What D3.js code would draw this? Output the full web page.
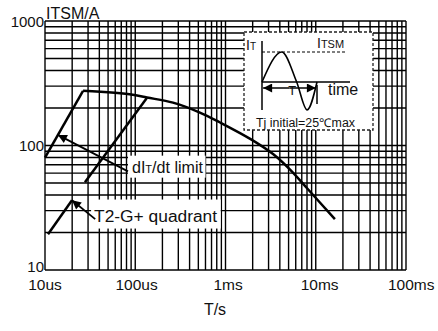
<!DOCTYPE html>
<html>
<head>
<meta charset="utf-8">
<script src="https://cdn.jsdelivr.net/npm/d3@7/dist/d3.min.js"></script>
<style>
  html, body { margin: 0; padding: 0; background: #fff; }
  svg { display: block; font-family: "Liberation Sans", Arial, sans-serif; }
</style>
</head>
<body>
<svg id="chart" width="438" height="331"></svg>
<script>
// Surge current ITSM versus pulse width T
const xTickValues = [1e-5, 1e-4, 1e-3, 1e-2, 1e-1];
const xTickLabels = ["10us", "100us", "1ms", "10ms", "100ms"];
const yTickValues = [10, 100, 1000];
const yTickLabels = ["10", "100", "1000"];

// steep rise limited by dIT/dt, then the surge-rating curve
const riseTime = [1e-5, 2.64e-5];
const riseCurrent = [80, 275];
const ratingTime = [2.64e-5, 9.4e-5, 1.35e-4, 2.62e-4, 5.2e-4, 8.7e-4, 1.92e-3, 3.39e-3, 5.19e-3, 8.2e-3, 1.63e-2];
const ratingCurrent = [275, 256, 243, 221, 184, 153, 112, 85, 64, 44.5, 25.6];
// second dIT/dt limit line
const limitTime = [2.77e-5, 1.35e-4];
const limitCurrent = [50.6, 242];
// T2-G+ quadrant limit
const quadTime = [1.08e-5, 1.99e-5];
const quadCurrent = [19.4, 36.3];

// inset waveform: one period T, current in units of ITSM
const wavePhase = [0, 0.36, 0.63, 0.82, 1];
const waveLevel = [0, 1, 0, -0.93, 0];

const svg = d3.select("#chart");
const x = d3.scaleLog().domain([1e-5, 1e-1]).range([45, 406]);
const y = d3.scaleLog().domain([10, 1000]).range([270, 21]);

// grid
const grid = svg.append("g").attr("stroke", "#000").attr("stroke-width", 1.4);
grid.selectAll("line.v").data(x.ticks()).join("line")
  .attr("x1", d => x(d)).attr("x2", d => x(d))
  .attr("y1", y(1000)).attr("y2", y(10));
grid.selectAll("line.h").data(y.ticks()).join("line")
  .attr("y1", d => y(d)).attr("y2", d => y(d))
  .attr("x1", x(1e-5)).attr("x2", x(1e-1));

// axis labels
svg.append("g").selectAll("text").data(xTickValues).join("text")
  .attr("x", (d, i) => x(d) + i * 1.3)
  .attr("y", 289.5)
  .attr("text-anchor", "middle")
  .attr("font-size", 15.5)
  .attr("fill", "#111")
  .text((d, i) => xTickLabels[i]);
svg.append("g").selectAll("text").data(yTickValues).join("text")
  .attr("x", 44)
  .attr("y", d => Math.min(y(d) + 5.8, 271.5))
  .attr("text-anchor", "end")
  .attr("font-size", 15)
  .attr("fill", "#111")
  .text((d, i) => yTickLabels[i]);
svg.append("text").attr("x", 215).attr("y", 315).attr("text-anchor", "middle")
  .attr("font-size", 16).attr("fill", "#111").text("T/s");
svg.append("text").attr("x", 46).attr("y", 18.5)
  .attr("font-size", 16).attr("fill", "#111").text("ITSM/A");

// arrow marker
svg.append("defs").append("marker")
  .attr("id", "head").attr("viewBox", "0 0 10 10")
  .attr("refX", 10).attr("refY", 5)
  .attr("markerWidth", 13).attr("markerHeight", 9)
  .attr("markerUnits", "userSpaceOnUse")
  .attr("orient", "auto")
  .append("path").attr("d", "M0,0L10,5L0,10z").attr("fill", "#000");

// annotations with white backing
function label(t, i, parts, pad, width) {
  const g = svg.append("g");
  const rect = g.append("rect").attr("fill", "#fff");
  const txt = g.append("text").attr("x", x(t)).attr("y", y(i))
    .attr("font-size", 16).attr("fill", "#111");
  parts.forEach(p => txt.append("tspan").attr("font-size", p[1]).text(p[0]));
  if (width) txt.attr("textLength", width).attr("lengthAdjust", "spacingAndGlyphs");
  const b = txt.node().getBBox();
  rect.attr("x", b.x - pad[3]).attr("y", b.y - pad[0])
    .attr("width", b.width + pad[1] + pad[3])
    .attr("height", b.height + pad[0] + pad[2]);
  return g;
}
label(9.2e-5, 60.5, [["dI", 16], ["T", 11], ["/dt limit", 16]], [3, 2, 2, 4], 71);
label(3.5e-5, 24.5, [["T2-G+ quadrant", 16]], [8, 3, 4, 3], 123);

// curves
const line = d3.line().x(d => x(d[0])).y(d => y(d[1]));
const curve = d3.line().x(d => x(d[0])).y(d => y(d[1])).curve(d3.curveCatmullRom.alpha(0.5));
const zip = (a, b) => a.map((v, k) => [v, b[k]]);
const curves = svg.append("g").attr("fill", "none").attr("stroke", "#000")
  .attr("stroke-width", 2.5).attr("stroke-linejoin", "round");
curves.append("path").attr("d", line(zip(riseTime, riseCurrent)));
curves.append("path").attr("d", curve(zip(ratingTime, ratingCurrent)));
curves.append("path").attr("d", line(zip(limitTime, limitCurrent)));
curves.append("path").attr("d", line(zip(quadTime, quadCurrent)));

// pointer arrows from the notes to the limit lines
const riseAt = t => riseCurrent[0] * Math.pow(riseCurrent[1] / riseCurrent[0],
  Math.log(t / riseTime[0]) / Math.log(riseTime[1] / riseTime[0]));
const arrows = [
  [[8.3e-5, 62], [1.39e-5, riseAt(1.39e-5)]],
  [[3.6e-5, 25.6], [quadTime[1], quadCurrent[1]]]
];
svg.append("g").selectAll("path").data(arrows).join("path")
  .attr("d", d => line(d))
  .attr("stroke", "#000").attr("stroke-width", 1.8).attr("fill", "none")
  .attr("marker-end", "url(#head)");

// inset: test waveform
const inset = svg.append("g");
inset.append("rect").attr("x", 244).attr("y", 32).attr("width", 129).attr("height", 98)
  .attr("fill", "#fff").attr("stroke", "#222").attr("stroke-width", 1.3)
  .attr("stroke-dasharray", "3,2");
const wx = d3.scaleLinear().domain([0, 1]).range([262, 317]);
const wy = d3.scaleLinear().domain([-1, 1]).range([112, 52]);
inset.append("line").attr("x1", wx(0)).attr("x2", wx(0)).attr("y1", 41).attr("y2", 110)
  .attr("stroke", "#000").attr("stroke-width", 1.5);
inset.append("line").attr("x1", wx(0)).attr("x2", 350).attr("y1", wy(0)).attr("y2", wy(0))
  .attr("stroke", "#000").attr("stroke-width", 1.5);
inset.append("line").attr("x1", wx(0)).attr("x2", 347).attr("y1", wy(1)).attr("y2", wy(1))
  .attr("stroke", "#000").attr("stroke-width", 1.2).attr("stroke-dasharray", "3,2");
inset.append("line").attr("x1", wx(1)).attr("x2", wx(1)).attr("y1", 85).attr("y2", 104)
  .attr("stroke", "#000").attr("stroke-width", 1.5);
inset.append("path")
  .attr("d", d3.line().x(d => wx(d[0])).y(d => wy(d[1])).curve(d3.curveMonotoneX)(zip(wavePhase, waveLevel)))
  .attr("fill", "none").attr("stroke", "#000").attr("stroke-width", 1.6);
inset.append("path")
  .attr("d", `M${wx(0.5)},88L${wx(0.02)},88`)
  .attr("stroke", "#000").attr("stroke-width", 1.5).attr("marker-end", "url(#head)");
inset.append("path")
  .attr("d", `M${wx(0.5)},88L${wx(0.98)},88`)
  .attr("stroke", "#000").attr("stroke-width", 1.5).attr("marker-end", "url(#head)");
inset.append("text").attr("x", wx(0.55)).attr("y", 95).attr("text-anchor", "middle")
  .attr("font-size", 13).attr("fill", "#111").text("T");
const it = inset.append("text").attr("x", 246).attr("y", 50).attr("fill", "#111");
it.append("tspan").attr("font-size", 14).text("I");
it.append("tspan").attr("font-size", 10).text("T");
const itsm = inset.append("text").attr("x", 317).attr("y", 48).attr("fill", "#111");
itsm.append("tspan").attr("font-size", 14).text("I");
itsm.append("tspan").attr("font-size", 11).text("TSM");
inset.append("text").attr("x", 328).attr("y", 95).attr("font-size", 16)
  .attr("fill", "#111").text("time");
inset.append("text").attr("x", 256).attr("y", 127).attr("font-size", 12)
  .attr("fill", "#111").attr("textLength", 99).attr("lengthAdjust", "spacingAndGlyphs")
  .text("Tj initial=25℃max");
</script>
</body>
</html>
